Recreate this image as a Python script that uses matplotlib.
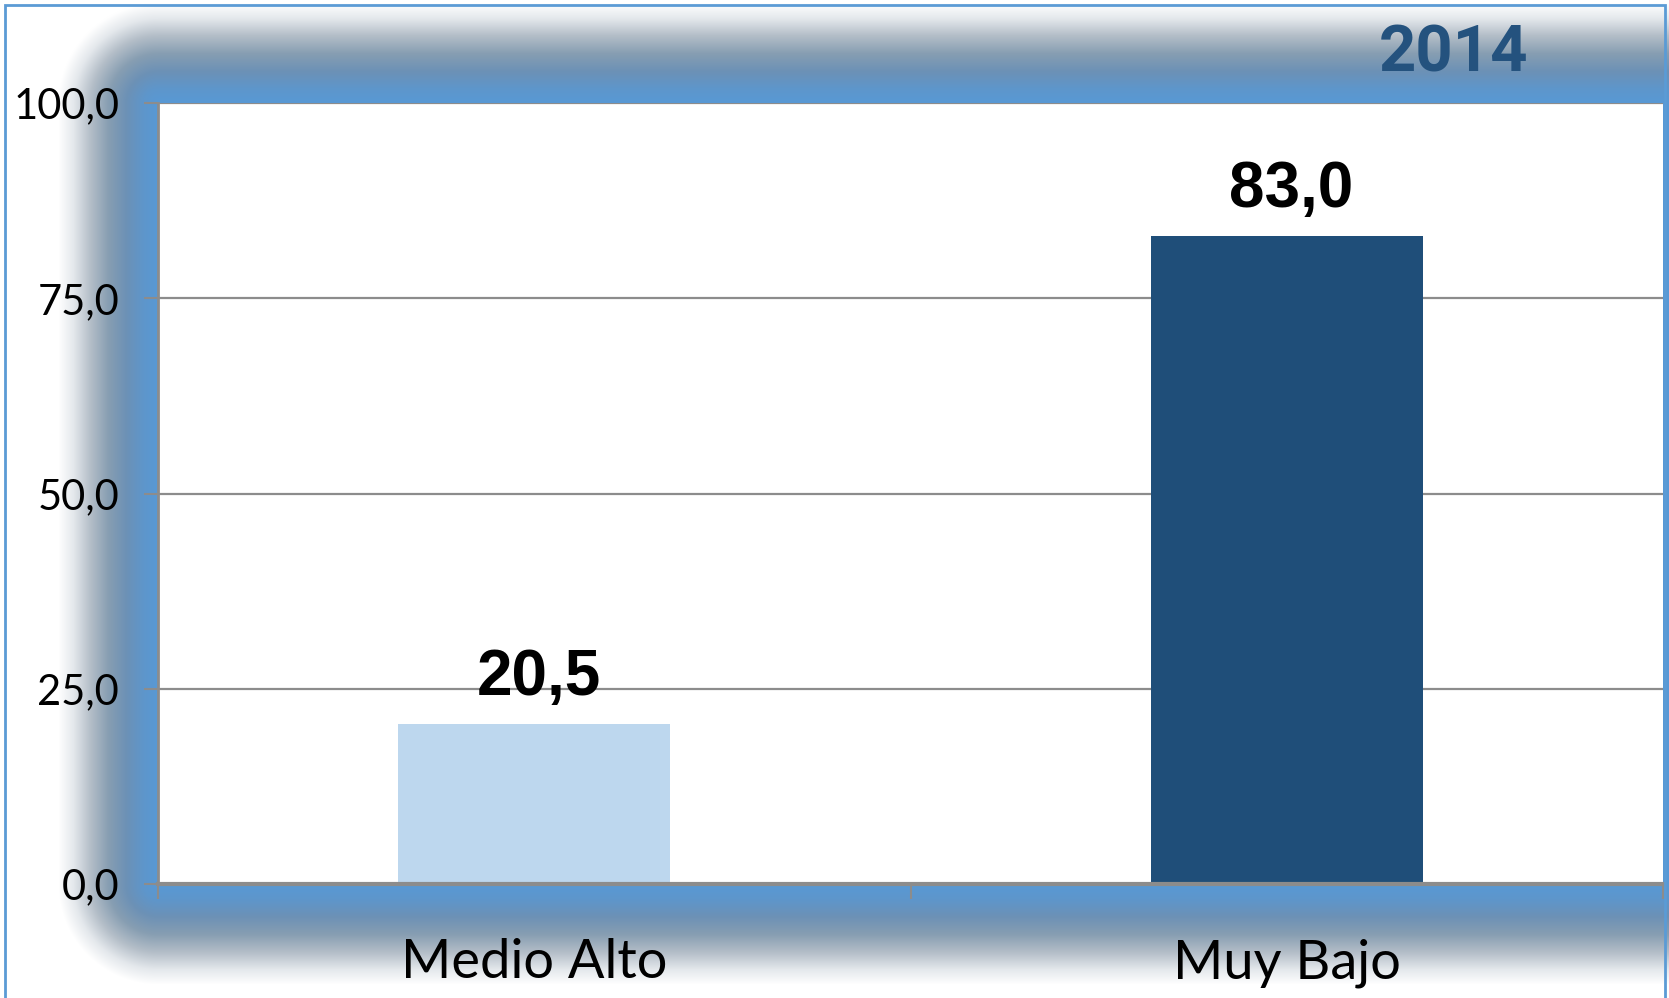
import numpy as np
import matplotlib
matplotlib.use("Agg")
import matplotlib.pyplot as plt
from matplotlib.patches import Rectangle
from matplotlib.ticker import FixedLocator, FuncFormatter

# data
categories = ["Medio Alto", "Muy Bajo"]
values = [20.5, 83.0]
bar_colors = ["#BDD7EE", "#1F4E79"]
year_label = "2014"
y_ticks = [0, 25, 50, 75, 100]

W, H = 1669, 998
fig = plt.figure(figsize=(W / 100, H / 100), dpi=100)

# plot area in pixels
x0, x1, y0, y1 = 158, 1663, 103, 884

# soft blue glow around the plot area (decoration)
yy, xx = np.mgrid[0:H, 0:W]
dx = np.maximum(np.maximum(x0 - xx, xx - (x1 + 60)), 0)
dy = np.maximum(np.maximum(y0 - yy, yy - y1), 0)
d = np.hypot(dx, dy)
stops = [0, 15, 32, 50, 68, 85, 100]
r = np.interp(d, stops, [88, 94, 108, 135, 180, 228, 255])
g = np.interp(d, stops, [153, 150, 145, 158, 190, 232, 255])
b = np.interp(d, stops, [213, 203, 182, 178, 200, 236, 255])
glow = np.dstack([r, g, b]) / 255.0

axbg = fig.add_axes([0, 0, 1, 1], zorder=0)
axbg.imshow(glow, aspect="auto", interpolation="bilinear")
axbg.set_axis_off()

# thin outer border
fig.patches.append(Rectangle((5 / W, -0.01), 1660 / W, 1 - 5 / H + 0.01,
                             transform=fig.transFigure, fill=False,
                             edgecolor="#5B9BD5", lw=2, zorder=5))

ax = fig.add_axes([x0 / W, 1 - y1 / H, (x1 - x0) / W, (y1 - y0) / H], zorder=1)
ax.set_facecolor("white")

xpos = np.arange(len(categories))
bars = ax.bar(xpos, values, width=0.362, color=bar_colors, zorder=3)

ax.set_xlim(-0.5, len(categories) - 0.5)
ax.set_ylim(0, 100)
ax.yaxis.set_major_locator(FixedLocator(y_ticks))
ax.yaxis.set_major_formatter(FuncFormatter(lambda v, p: f"{v:.1f}".replace(".", ",")))
ax.grid(axis="y", color="#8C8C8C", lw=1.6, zorder=1)

ax.set_xticks(xpos)
ax.set_xticklabels(categories)
ax.set_xticks([-0.5, 0.5, 1.5], minor=True)
ax.tick_params(axis="x", which="major", length=0, pad=39, labelcolor="black")
ax.tick_params(axis="x", which="minor", length=11, width=1.5, color="#8C8C8C")
ax.tick_params(axis="y", length=10, width=1.5, color="#8C8C8C", pad=18,
               labelcolor="black")

tick_font = dict(family=["Lato", "DejaVu Sans"], weight="normal")
for lab in ax.get_yticklabels():
    lab.set(fontsize=30, **tick_font)
for lab in ax.get_xticklabels():
    lab.set(fontsize=39, **tick_font)

for sp in ["top", "right"]:
    ax.spines[sp].set_visible(False)
ax.spines["left"].set_color("#8C8C8C")
ax.spines["left"].set_linewidth(2)
ax.spines["bottom"].set_color("#8C8C8C")
ax.spines["bottom"].set_linewidth(3)
ax.spines["bottom"].set_zorder(4)

for rect, v in zip(bars, values):
    ax.annotate(f"{v:.1f}".replace(".", ","),
                (rect.get_x() + rect.get_width() / 2, rect.get_height()),
                xytext=(3, 21), textcoords="offset points",
                ha="center", va="baseline", fontsize=46, fontweight="bold",
                family=["Liberation Sans", "DejaVu Sans"], color="black")

fig.text(1454 / W, 1 - 72 / H, year_label, ha="center", va="baseline",
         fontsize=47, fontweight="bold", family=["Roboto", "DejaVu Sans"],
         color="#24527E", zorder=6)

fig.savefig("out.png", dpi=100)
